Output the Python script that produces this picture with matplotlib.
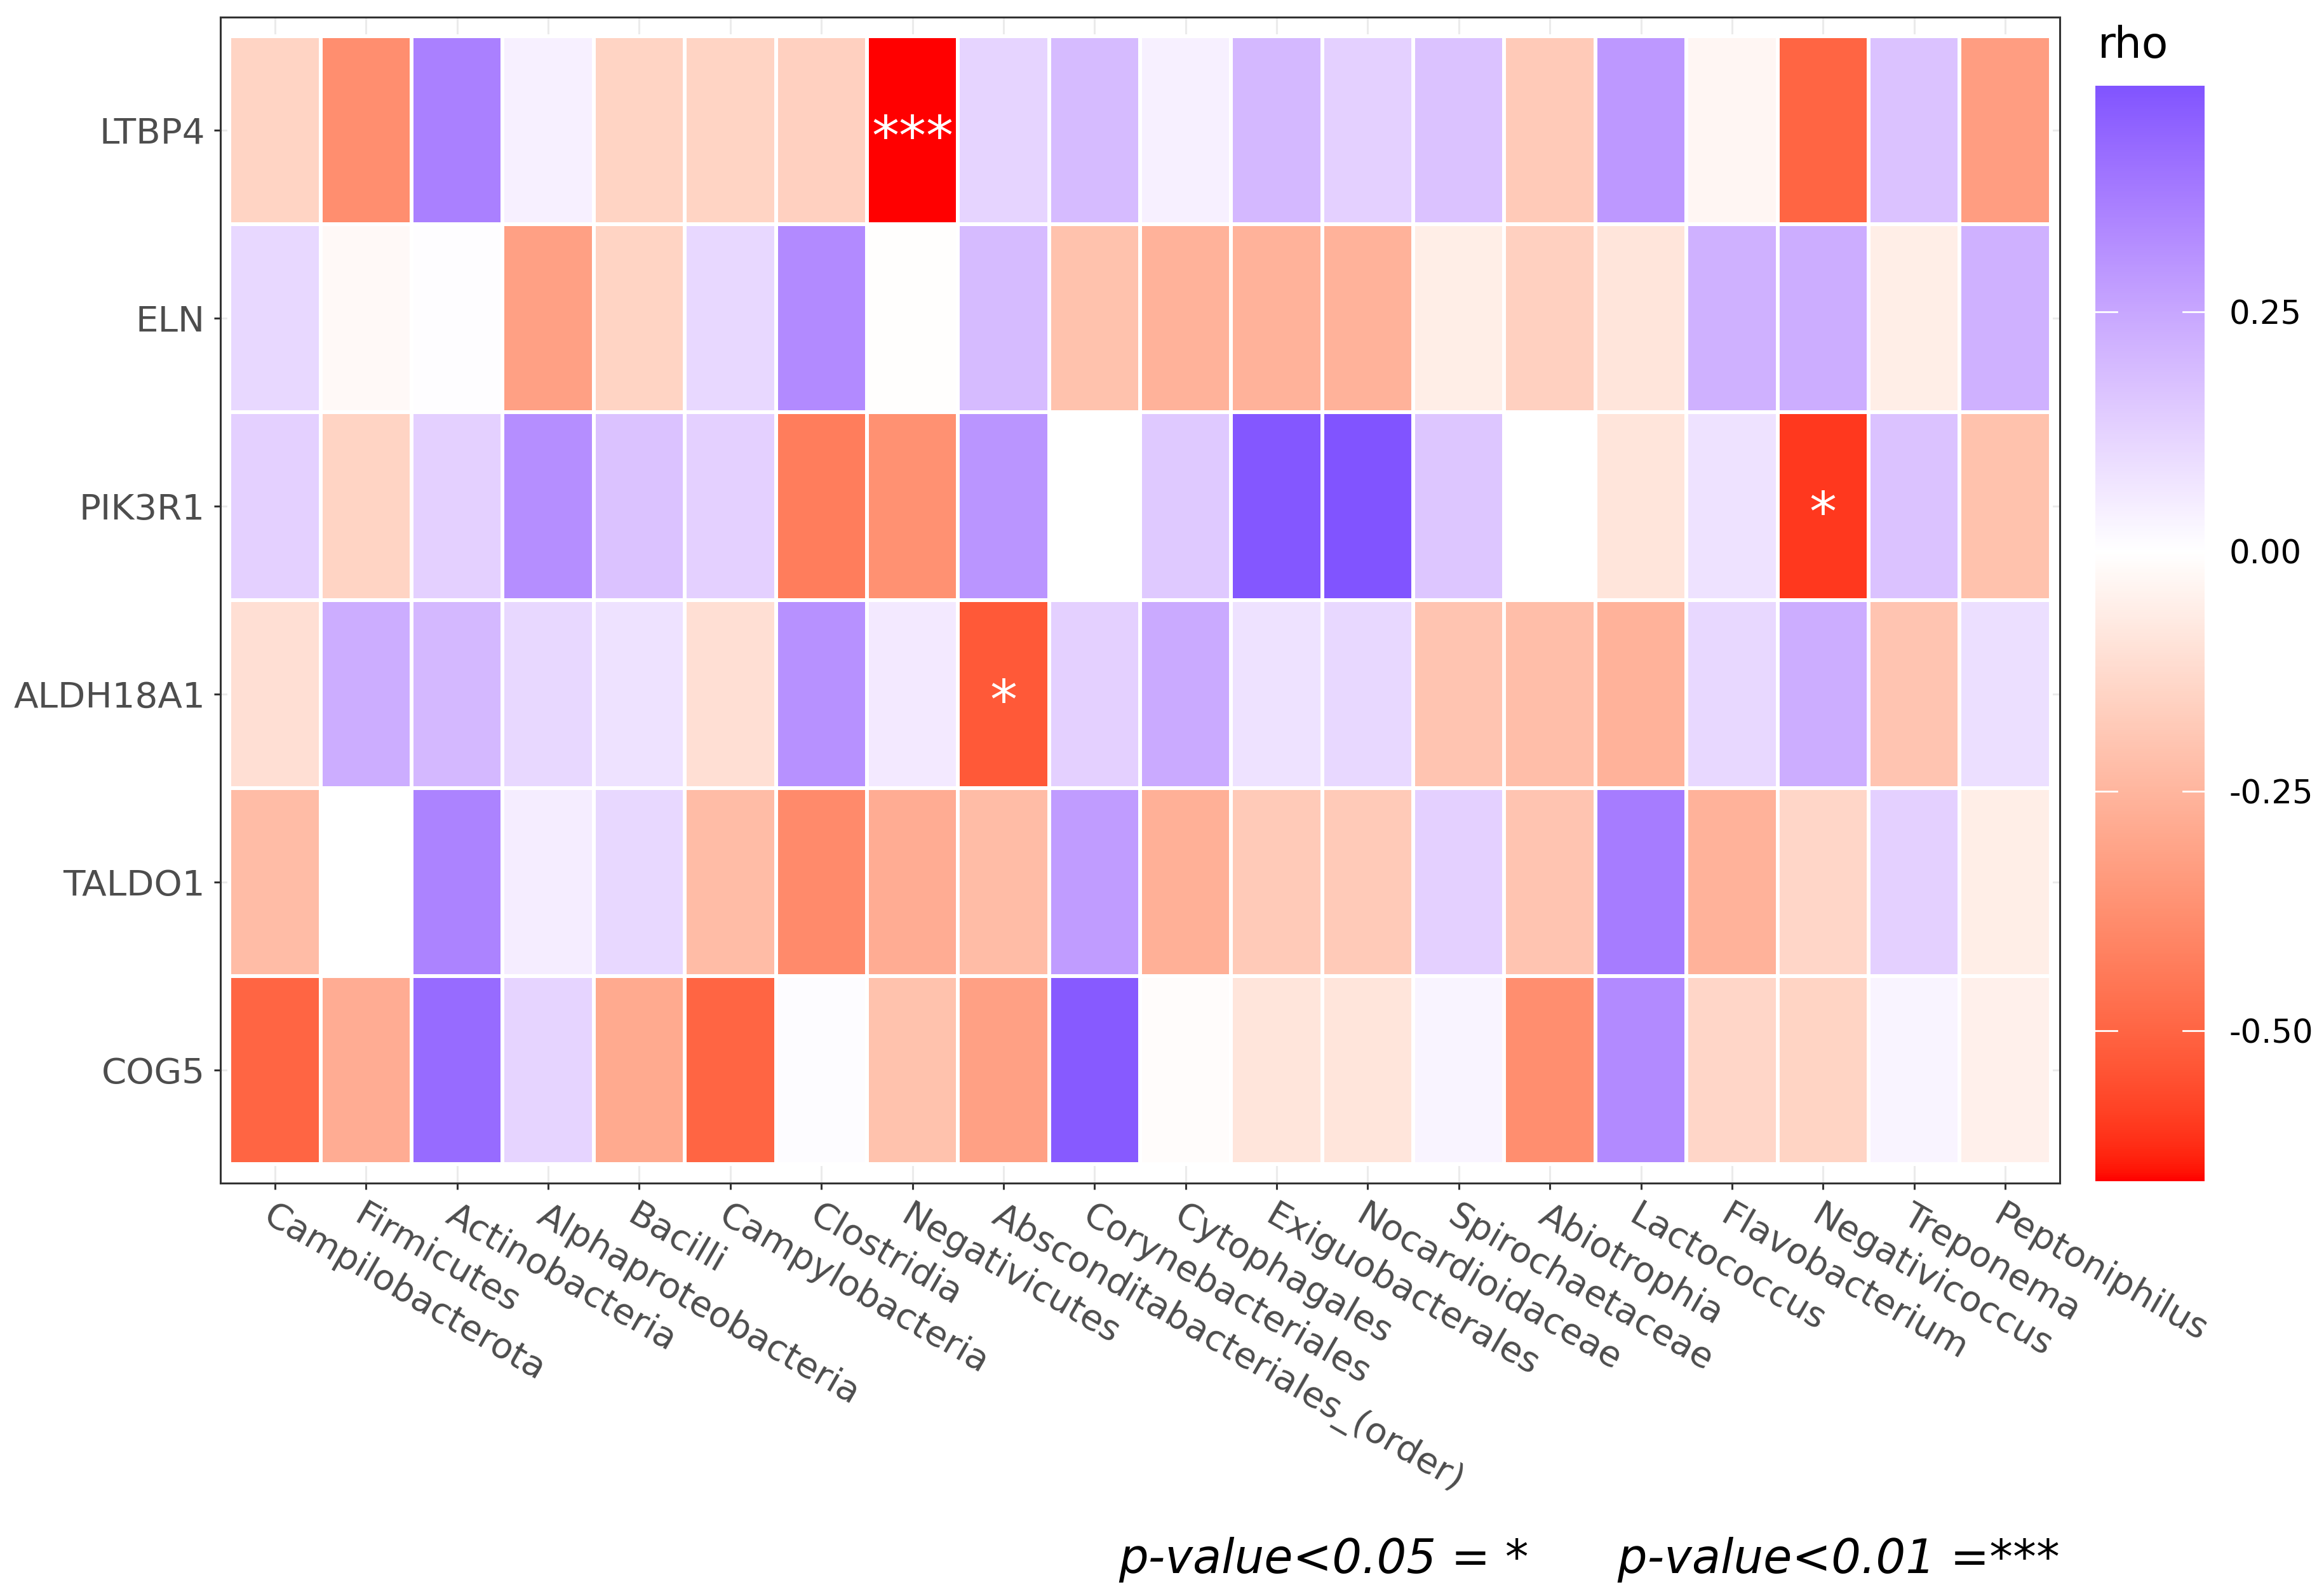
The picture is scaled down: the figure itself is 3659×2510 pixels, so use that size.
import numpy as np
import matplotlib
matplotlib.use("Agg")
import matplotlib.pyplot as plt
from matplotlib.colors import ListedColormap, Normalize

# === DATA ===
genes = ["LTBP4", "ELN", "PIK3R1", "ALDH18A1", "TALDO1", "COG5"]
taxa = ["Campilobacterota", "Firmicutes", "Actinobacteria", "Alphaproteobacteria",
        "Bacilli", "Campylobacteria", "Clostridia", "Negativicutes",
        "Absconditabacteriales_(order)", "Corynebacteriales", "Cytophagales",
        "Exiguobacterales", "Nocardioidaceae", "Spirochaetaceae", "Abiotrophia",
        "Lactococcus", "Flavobacterium", "Negativicoccus", "Treponema", "Peptoniphilus"]

rho_LTBP4 = [-0.15, -0.38, 0.36, 0.04, -0.15, -0.15, -0.16, -0.657, 0.12, 0.19,
             0.04, 0.20, 0.13, 0.17, -0.18, 0.29, -0.03, -0.50, 0.17, -0.33]
rho_ELN = [0.11, -0.02, 0.005, -0.32, -0.15, 0.11, 0.33, -0.003, 0.19, -0.21,
           -0.26, -0.26, -0.26, -0.06, -0.16, -0.09, 0.22, 0.23, -0.06, 0.22]
rho_PIK3R1 = [0.13, -0.15, 0.13, 0.32, 0.17, 0.13, -0.43, -0.37, 0.30, 0.0,
              0.15, 0.475, 0.486, 0.16, 0.0, -0.09, 0.08, -0.60, 0.17, -0.21]
rho_ALDH18A1 = [-0.11, 0.23, 0.20, 0.11, 0.08, -0.11, 0.31, 0.06, -0.53, 0.13,
                0.24, 0.08, 0.11, -0.20, -0.22, -0.26, 0.11, 0.23, -0.20, 0.09]
rho_TALDO1 = [-0.23, 0.0, 0.35, 0.05, 0.11, -0.23, -0.39, -0.28, -0.23, 0.28,
              -0.27, -0.18, -0.18, 0.13, -0.20, 0.37, -0.26, -0.14, 0.13, -0.06]
rho_COG5 = [-0.50, -0.28, 0.42, 0.12, -0.29, -0.50, 0.01, -0.21, -0.32, 0.47,
            -0.01, -0.09, -0.09, 0.03, -0.38, 0.33, -0.14, -0.15, 0.03, -0.05]

# significance marks (gene, taxon, label)
sig_genes = ["LTBP4", "PIK3R1", "ALDH18A1"]
sig_taxa = ["Negativicutes", "Negativicoccus", "Absconditabacteriales_(order)"]
sig_marks = ["***", "*", "*"]

footer = "p-value<0.05 = *      p-value<0.01 =***"

rho = np.array([rho_LTBP4, rho_ELN, rho_PIK3R1, rho_ALDH18A1, rho_TALDO1, rho_COG5])

# --- Lab colour ramp (like scale_fill_gradient2) ---
M = np.array([[0.4124564, 0.3575761, 0.1804375],
              [0.2126729, 0.7151522, 0.0721750],
              [0.0193339, 0.1191920, 0.9503041]])
WHITE = np.array([0.95047, 1.0, 1.08883])


def srgb_to_lab(rgb):
    rgb = np.asarray(rgb, float)
    lin = np.where(rgb <= 0.04045, rgb / 12.92, ((rgb + 0.055) / 1.055) ** 2.4)
    t = (lin @ M.T) / WHITE
    f = np.where(t > (6 / 29) ** 3, np.cbrt(t), t / (3 * (6 / 29) ** 2) + 4 / 29)
    return np.stack([116 * f[..., 1] - 16, 500 * (f[..., 0] - f[..., 1]),
                     200 * (f[..., 1] - f[..., 2])], -1)


def lab_to_srgb(lab):
    fy = (lab[..., 0] + 16) / 116
    f = np.stack([fy + lab[..., 1] / 500, fy, fy - lab[..., 2] / 200], -1)
    t = np.where(f > 6 / 29, f ** 3, 3 * (6 / 29) ** 2 * (f - 4 / 29))
    lin = np.clip((t * WHITE) @ np.linalg.inv(M).T, 0, 1)
    rgb = np.where(lin <= 0.0031308, 12.92 * lin, 1.055 * lin ** (1 / 2.4) - 0.055)
    return np.clip(rgb, 0, 1)


low, mid, high = srgb_to_lab([1, 0, 0]), srgb_to_lab([1, 1, 1]), srgb_to_lab([0, 0, 1])
vmin, vmax = rho.min(), rho.max()
span = max(abs(vmin), abs(vmax))
vals = np.linspace(vmin, vmax, 512)
pos = 0.5 + vals / (2 * span)
labs = np.empty((len(vals), 3))
for i, p in enumerate(pos):
    if p < 0.5:
        t = p / 0.5
        labs[i] = low + (mid - low) * t
    else:
        t = (p - 0.5) / 0.5
        labs[i] = mid + (high - mid) * t
cmap = ListedColormap(lab_to_srgb(labs))
norm = Normalize(vmin, vmax)

# === PLOT ===
W, H = 3659, 2510
fig = plt.figure(figsize=(W / 200, H / 200), dpi=200)
ax = fig.add_axes([347 / W, 1 - 1863 / H, (3243 - 347) / W, (1863 - 27) / H])

ax.set_axisbelow(True)
ax.grid(True, color="#EBEBEB", lw=1.1)
mesh = ax.pcolormesh(np.arange(len(taxa) + 1) - 0.5, np.arange(len(genes) + 1) - 0.5, rho,
                     cmap=cmap, norm=norm, edgecolors="white", linewidth=2.0)
ax.set_xlim(-0.6, len(taxa) - 0.4)
ax.set_ylim(len(genes) - 0.4, -0.6)

for g, tx, mk in zip(sig_genes, sig_taxa, sig_marks):
    ax.annotate(mk, (taxa.index(tx), genes.index(g)), xytext=(0, -14),
                textcoords="offset points", ha="center", va="baseline",
                color="white", fontsize=31)

ax.set_yticks(range(len(genes)))
ax.set_yticklabels(genes)
ax.set_xticks(range(len(taxa)))
ax.set_xticklabels(taxa, rotation=-30, ha="left", va="top", rotation_mode="anchor")
ax.tick_params(length=3.6, width=1.1, color="#333333", labelsize=20.3,
               labelcolor="#4D4D4D", pad=5)
for sp in ax.spines.values():
    sp.set_color("#333333")
    sp.set_linewidth(1.1)

# colourbar
cax = fig.add_axes([3299 / W, 1 - 1860 / H, 172 / W, (1860 - 135) / H])
cb = fig.colorbar(mesh, cax=cax)
cb.outline.set_visible(False)
cticks = [-0.5, -0.25, 0.0, 0.25]
cb.set_ticks(cticks)
cb.set_ticklabels([f"{v:.2f}" for v in cticks])
cax.tick_params(length=0, pad=14, labelsize=18.5, labelcolor="black")
for v in cticks:
    cax.plot([0, 0.2], [v, v], color="white", lw=1.0, transform=cax.get_yaxis_transform())
    cax.plot([0.8, 1.0], [v, v], color="white", lw=1.0, transform=cax.get_yaxis_transform())
fig.text(3303 / W, 1 - 91 / H, "rho", fontsize=24.5, ha="left", va="baseline")

fig.text(3243 / W, 1 - 2477 / H, footer, fontsize=26.5, style="italic",
         ha="right", va="baseline")

fig.savefig("out.png", dpi=200, facecolor="white")
